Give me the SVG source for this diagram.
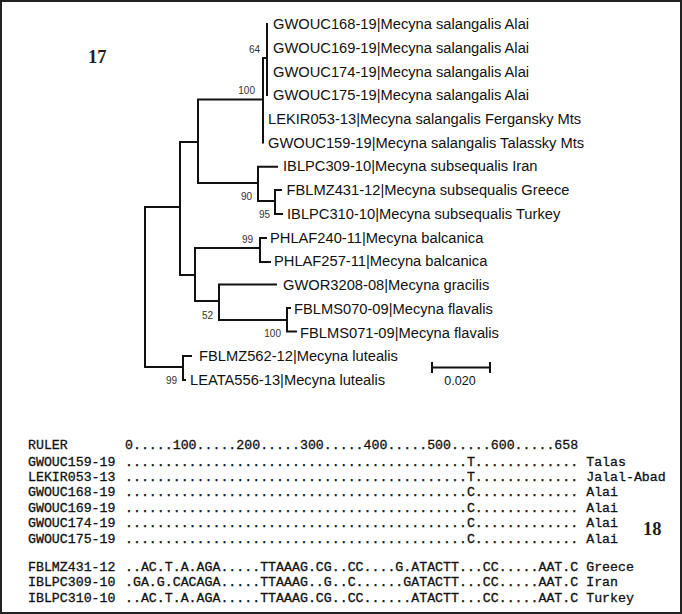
<svg xmlns="http://www.w3.org/2000/svg" width="682" height="614" viewBox="0 0 682 614">
<style>
.lbl{font-family:"Liberation Sans",Arial,sans-serif;font-size:14.7px;fill:#111}
.bs{font-family:"Liberation Sans",Arial,sans-serif;font-size:10px;fill:#333;text-anchor:end}
.br{stroke:#111;stroke-width:2;fill:none;stroke-linecap:square}
.mono{font-family:"Liberation Mono","Courier New",monospace;font-size:13.25px;fill:#111;stroke:#111;stroke-width:0.3;white-space:pre}
.fig{font-family:"Liberation Serif","Times New Roman",serif;font-weight:bold;font-size:18.5px;fill:#1c1c28}
</style>
<rect x="1" y="1" width="680" height="612" fill="#fff" stroke="#222" stroke-width="2"/>
<text class="fig" x="88" y="63">17</text>
<text class="fig" x="643" y="535">18</text>

<g id="branches">
<path class="br" d="M267,24V95 M263,58H267 M263,58V142.5 M198,99.5H263 M198,99.5V183 M198,183H258 M258,166.7V201 M258,166.7H277 M258,201H275 M275,190V214 M275,190H281 M275,214H282 M180,142V275 M180,142H198 M180,275H195 M145,207V367 M145,207H180 M145,367H183 M183,356V380 M183,356H191 M183,380H185 M195,248V301 M195,248H260 M260,238V262 M260,238H266 M260,262H270 M195,301H219 M219,284.5V320 M219,284.5H276 M219,320H287 M287,308V331.5 M287,308H290 M287,331.5H296"/>
</g>
<g id="bootstrap">
<text class="bs" x="260" y="52.5">64</text>
<text class="bs" x="255" y="94">100</text>
<text class="bs" x="252" y="200">90</text>
<text class="bs" x="270" y="217.5">95</text>
<text class="bs" x="253" y="242.5">99</text>
<text class="bs" x="213" y="318.5">52</text>
<text class="bs" x="281" y="337">100</text>
<text class="bs" x="177" y="383.5">99</text>
</g>
<g id="scalebar">
<path class="br" stroke-width="1.8" d="M432,367.5H490 M432,363V372 M490,363V372"/>
<text class="lbl" x="460" y="384.5" text-anchor="middle" style="font-size:12.5px">0.020</text>
</g>

<g id="leaf-GWOUC168"><text class="lbl" x="273" y="29">GWOUC168-19|Mecyna salangalis Alai</text></g>
<g id="leaf-GWOUC169"><text class="lbl" x="273" y="52.7">GWOUC169-19|Mecyna salangalis Alai</text></g>
<g id="leaf-GWOUC174"><text class="lbl" x="273" y="76.5">GWOUC174-19|Mecyna salangalis Alai</text></g>
<g id="leaf-GWOUC175"><text class="lbl" x="273" y="100.2">GWOUC175-19|Mecyna salangalis Alai</text></g>
<g id="leaf-LEKIR053"><text class="lbl" x="268" y="123.9">LEKIR053-13|Mecyna salangalis Fergansky Mts</text></g>
<g id="leaf-GWOUC159"><text class="lbl" x="268" y="147.7">GWOUC159-19|Mecyna salangalis Talassky Mts</text></g>
<g id="leaf-IBLPC309"><text class="lbl" x="283" y="171.4">IBLPC309-10|Mecyna subsequalis Iran</text></g>
<g id="leaf-FBLMZ431"><text class="lbl" x="286.5" y="195.1">FBLMZ431-12|Mecyna subsequalis Greece</text></g>
<g id="leaf-IBLPC310"><text class="lbl" x="287" y="218.8">IBLPC310-10|Mecyna subsequalis Turkey</text></g>
<g id="leaf-PHLAF240"><text class="lbl" x="270" y="242.6">PHLAF240-11|Mecyna balcanica</text></g>
<g id="leaf-PHLAF257"><text class="lbl" x="274" y="266.3">PHLAF257-11|Mecyna balcanica</text></g>
<g id="leaf-GWOR3208"><text class="lbl" x="283" y="290">GWOR3208-08|Mecyna gracilis</text></g>
<g id="leaf-FBLMS070"><text class="lbl" x="294" y="313.8">FBLMS070-09|Mecyna flavalis</text></g>
<g id="leaf-FBLMS071"><text class="lbl" x="300" y="337.5">FBLMS071-09|Mecyna flavalis</text></g>
<g id="leaf-FBLMZ562"><text class="lbl" x="199" y="361.2">FBLMZ562-12|Mecyna lutealis</text></g>
<g id="leaf-LEATA556"><text class="lbl" x="190" y="384.9">LEATA556-13|Mecyna lutealis</text></g>

<g id="alignment">
<text class="mono" x="28" y="449">RULER</text><text class="mono" x="125" y="449">0.....100.....200.....300.....400.....500.....600.....658</text>
<text class="mono" x="28" y="465.5">GWOUC159-19</text><text class="mono" x="125" y="465.5">...........................................T............. Talas</text>
<text class="mono" x="28" y="481">LEKIR053-13</text><text class="mono" x="125" y="481">...........................................T............. Jalal-Abad</text>
<text class="mono" x="28" y="496.4">GWOUC168-19</text><text class="mono" x="125" y="496.4">...........................................C............. Alai</text>
<text class="mono" x="28" y="511.8">GWOUC169-19</text><text class="mono" x="125" y="511.8">...........................................C............. Alai</text>
<text class="mono" x="28" y="527.2">GWOUC174-19</text><text class="mono" x="125" y="527.2">...........................................C............. Alai</text>
<text class="mono" x="28" y="542.6">GWOUC175-19</text><text class="mono" x="125" y="542.6">...........................................C............. Alai</text>
<text class="mono" x="28" y="571">FBLMZ431-12</text><text class="mono" x="125" y="571">..AC.T.A.AGA.....TTAAAG.CG..CC....G.ATACTT...CC.....AAT.C Greece</text>
<text class="mono" x="28" y="586.4">IBLPC309-10</text><text class="mono" x="125" y="586.4">.GA.G.CACAGA.....TTAAAG..G..C......GATACTT...CC.....AAT.C Iran</text>
<text class="mono" x="28" y="601.8">IBLPC310-10</text><text class="mono" x="125" y="601.8">..AC.T.A.AGA.....TTAAAG.CG..CC......ATACTT...CC.....AAT.C Turkey</text>
</g>
</svg>
